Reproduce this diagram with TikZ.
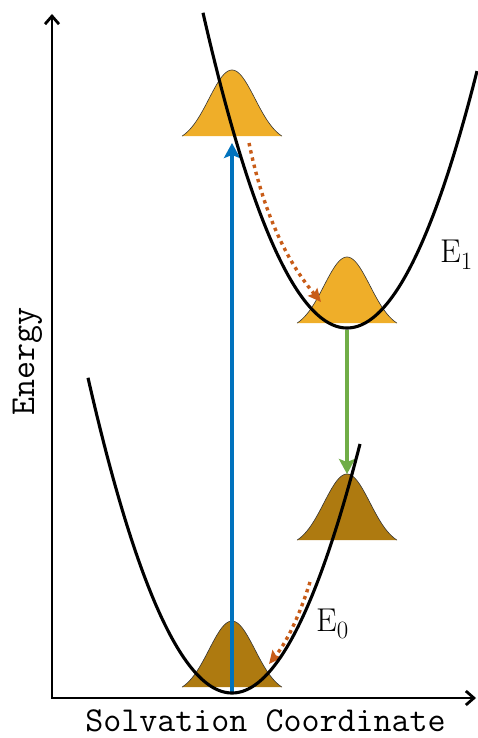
\documentclass[tikz,border=0pt]{standalone}
\usepackage{fontspec}
\usetikzlibrary{arrows.meta}
\definecolor{gold}{RGB}{239,174,41}
\definecolor{bronze}{RGB}{174,122,16}
\definecolor{myblue}{RGB}{0,114,189}
\definecolor{mygreen}{RGB}{112,173,71}
\definecolor{myorange}{RGB}{200,92,24}
\newcommand\mygauss[4]{%
  \fill[#3] plot[gaussplot] ({#1+\x},{#2-73*exp(-0.5*(\x/23)^2)}) -- cycle;
  \draw[gaussline] plot[gaussplot] ({#1+\x},{#2-73*exp(-0.5*(\x/23)^2)});
  \coordinate (#4) at (#1,#2);
  \coordinate (#4peak) at (#1,#2-73);}
\begin{document}
\begin{tikzpicture}[x=1pt,y=-1pt,
  gaussplot/.style={domain=-50:50,samples=81,smooth},
  gaussline/.style={line width=0.6pt,black!80},
  curve/.style={line width=3.1pt,black},
  axis/.style={line width=2.8pt,black},
  bluearrow/.style={line width=3.6pt,myblue,-{Stealth[length=15pt,width=16pt,inset=3pt]}},
  greenarrow/.style={line width=3.6pt,mygreen,-{Stealth[length=15pt,width=16pt,inset=3pt]}},
  relax/.style={line width=3.4pt,myorange,dash pattern=on 3.4pt off 4pt,-{Stealth[length=13pt,width=12pt,inset=2pt]}},
  axlabel/.style={font=\fontsize{35}{40}\selectfont\ttfamily,inner sep=0pt},
  elabel/.style={font=\fontsize{33}{38}\selectfont,inner sep=0pt,anchor=base west}]
\useasboundingbox (0,0) rectangle (477,738);
% gaussians
\mygauss{232}{143}{gold}{ga}
\mygauss{347}{330}{gold}{gb}
\mygauss{347}{547}{bronze}{gc}
\mygauss{232}{694}{bronze}{gd}
% relaxation (dotted) connectors
\coordinate (r1s) at (249,143);
\coordinate (r1e) at (321,302);
\coordinate (r2s) at (310,582);
\coordinate (r2e) at (269,664);
\draw[relax] (r1s) .. controls (265,220) and (290,265) .. (r1e);
\draw[relax] (r2s) .. controls (303,605) and (290,638) .. (r2e);
% absorption and emission
\draw[bluearrow] (gd) -- (ga);
\draw[greenarrow] (gb) -- (gcpeak);
% potential curves
\draw[curve] plot[domain=88:360,samples=120] (\x,{693-(0.12329*(\x-232))^2});
\draw[curve] plot[domain=203:477,samples=120] (\x,{328-(0.12329*(\x-347))^2});
% axes
\draw[axis,{Straight Barb[length=8pt,width=14pt]}-{Straight Barb[length=8pt,width=14pt]}] (52,14) -- (52,698) -- (476,698);
% labels
\node[axlabel,anchor=base] (xl) at (265.5,731) {Solvation Coordinate};
\node[axlabel,anchor=base,rotate=90] (yl) at (34,361.5) {Energy};
\node[elabel] (e1) at (440,262) {E$_1$};
\node[elabel] (e0) at (316,631) {E$_0$};
\end{tikzpicture}
\end{document}
